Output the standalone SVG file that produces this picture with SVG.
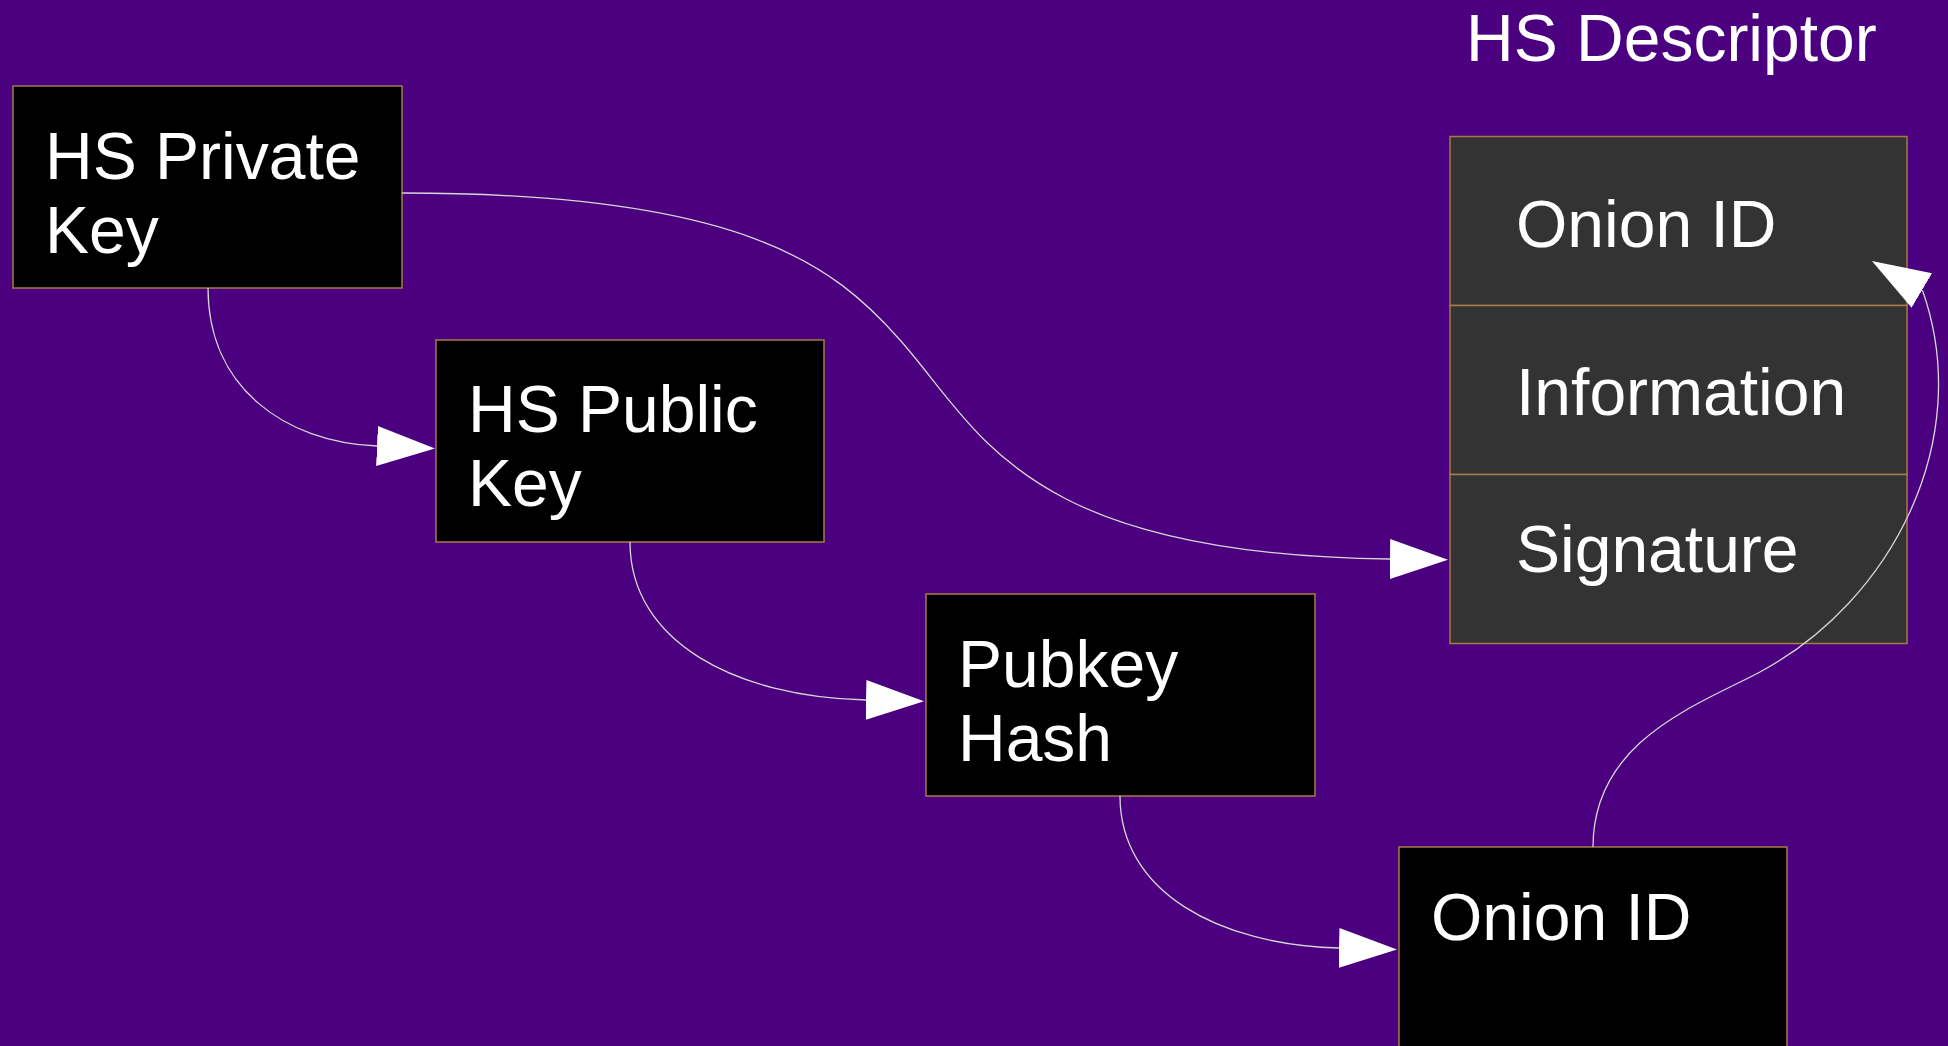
<svg xmlns="http://www.w3.org/2000/svg" width="1948" height="1046" viewBox="0 0 1948 1046">
  <style>
    .bg { fill: #4b007f; }
    .box { fill: #000000; stroke: #a67b45; stroke-width: 1.5; }
    .field { fill: #333333; stroke: #a67b45; stroke-width: 1.5; }
    .label { fill: #ffffff; font-family: "Liberation Sans", Arial, sans-serif; font-size: 66px; }
    .edge { fill: none; stroke: #d6d6d6; stroke-width: 1.3; }
  </style>
  <defs>
    <marker id="arrow" viewBox="0 0 58 40" markerWidth="58" markerHeight="40" refX="0" refY="20" orient="auto" markerUnits="userSpaceOnUse">
      <path d="M0,0 L58,20 L0,40 Z" fill="#ffffff"/>
    </marker>
  </defs>

  <rect class="bg" x="0" y="0" width="1948" height="1046"/>

  <!-- Title above the descriptor -->
  <text id="descriptor-title" class="label" x="1466" y="61">HS Descriptor</text>

  <!-- Nodes -->
  <g id="hs-private-key">
    <rect class="box" x="13" y="86" width="389" height="202"/>
    <text class="label" x="45" y="179">HS Private</text>
    <text class="label" x="45" y="253">Key</text>
  </g>

  <g id="hs-public-key">
    <rect class="box" x="436" y="340" width="388" height="202"/>
    <text class="label" x="468" y="432">HS Public</text>
    <text class="label" x="468" y="506">Key</text>
  </g>

  <g id="pubkey-hash">
    <rect class="box" x="926" y="594" width="389" height="202"/>
    <text class="label" x="958" y="687">Pubkey</text>
    <text class="label" x="958" y="761">Hash</text>
  </g>

  <g id="onion-id">
    <rect class="box" x="1399" y="847" width="388" height="210"/>
    <text class="label" x="1431" y="940">Onion ID</text>
  </g>

  <g id="hs-descriptor">
    <rect class="field" x="1450" y="136.5" width="457" height="169"/>
    <rect class="field" x="1450" y="305.5" width="457" height="169"/>
    <rect class="field" x="1450" y="474.5" width="457" height="169"/>
    <text class="label" x="1516" y="247">Onion ID</text>
    <text class="label" x="1516" y="415">Information</text>
    <text class="label" x="1516" y="572">Signature</text>
  </g>

  <!-- Connectors, drawn over the nodes -->
  <g id="connectors">
    <path class="edge" marker-end="url(#arrow)" d="M208,288 C208,387 284,442 377,446"/>
    <path class="edge" marker-end="url(#arrow)" d="M630,542 C630,642 736,697 866,700"/>
    <path class="edge" marker-end="url(#arrow)" d="M1120,796 C1120,892 1219,945 1339,948"/>
    <path class="edge" marker-end="url(#arrow)" d="M402,193 C742,193 834,265 900,340 C980,430 1020,555 1390,559"/>
    <path class="edge" marker-end="url(#arrow)" d="M1593,847 C1593,740 1698,705 1760,672 C1892,601 1975,440 1922.7,291 l-0.86,-0.51"/>
  </g>
</svg>
